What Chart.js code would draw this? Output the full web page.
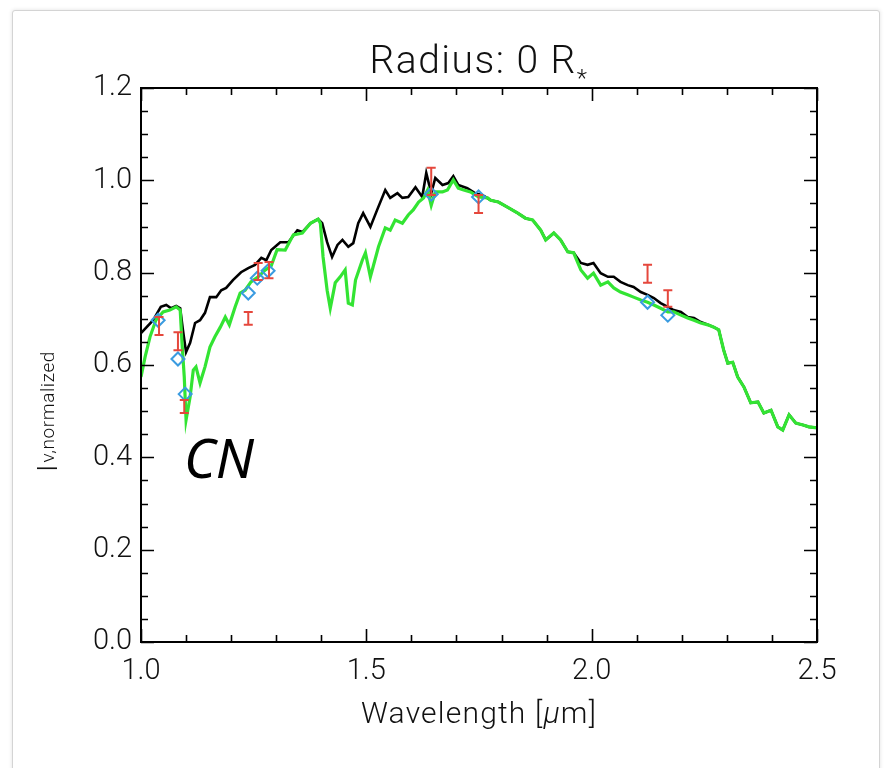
<!DOCTYPE html>
<html>
<head>
<meta charset="utf-8">
<script src="https://cdn.jsdelivr.net/npm/chart.js@4.4.1/dist/chart.umd.min.js"></script>
<style>
  html, body { margin: 0; padding: 0; background: #ffffff; overflow: hidden; }
  #wrap { position: relative; width: 889px; height: 768px; }
  #frame { position: absolute; left: 12px; top: 10px; width: 866px; height: 800px;
           border: 1px solid #d4d4d4; border-radius: 3px; box-shadow: 0 0 4px rgba(0,0,0,0.12); background: #fff; }
  #c { position: absolute; left: 0; top: 0; }
</style>
</head>
<body>
<div id="wrap">
  <div id="frame"></div>
  <canvas id="c" width="889" height="768"></canvas>
</div>
<script>
// ---------------- data ----------------
const titleText = 'Radius: 0 R';
const xTitle = 'Wavelength [μm]';
const xTickValues = [1.0, 1.5, 2.0, 2.5];
const yTickValues = [0.0, 0.2, 0.4, 0.6, 0.8, 1.0, 1.2];

const blackWl = [1.000,1.027,1.044,1.056,1.067,1.078,1.087,1.093,1.100,1.109,1.120,1.131,1.142,1.153,1.167,1.178,1.189,1.204,1.222,1.238,1.253,1.267,1.278,1.289,1.309,1.327,1.347,1.358,1.376,1.393,1.402,1.413,1.424,1.436,1.447,1.460,1.471,1.482,1.493,1.509,1.524,1.542,1.553,1.569,1.580,1.593,1.609,1.624,1.633,1.644,1.653,1.669,1.682,1.693,1.704,1.724,1.742,1.758,1.776,1.793,1.813,1.836,1.853,1.869,1.887,1.898,1.916,1.931,1.947,1.960,1.976,1.991,2.004,2.020,2.036,2.049,2.064,2.080,2.093,2.109,2.124,2.138,2.153,2.169,2.182,2.198,2.213,2.227,2.242,2.258,2.271,2.282,2.293,2.302,2.313,2.324,2.338,2.353,2.369,2.382,2.398,2.413,2.424,2.438,2.453,2.469,2.482,2.500];
const blackFlux = [0.669,0.697,0.726,0.730,0.723,0.728,0.723,0.676,0.628,0.648,0.691,0.697,0.713,0.747,0.747,0.762,0.767,0.784,0.801,0.810,0.817,0.832,0.827,0.849,0.866,0.866,0.892,0.888,0.907,0.916,0.907,0.866,0.834,0.860,0.871,0.856,0.864,0.907,0.929,0.899,0.936,0.979,0.962,0.972,0.962,0.964,0.985,0.964,1.016,0.972,1.005,0.990,0.994,1.009,0.990,0.983,0.972,0.968,0.957,0.953,0.942,0.929,0.918,0.914,0.892,0.871,0.886,0.871,0.845,0.843,0.821,0.817,0.821,0.799,0.791,0.791,0.780,0.773,0.769,0.758,0.752,0.745,0.734,0.726,0.719,0.715,0.704,0.702,0.693,0.687,0.682,0.676,0.632,0.604,0.606,0.574,0.552,0.518,0.520,0.496,0.502,0.466,0.459,0.492,0.474,0.470,0.466,0.464];

const greenWl = [1.000,1.009,1.020,1.033,1.049,1.064,1.078,1.087,1.091,1.096,1.100,1.109,1.116,1.122,1.131,1.142,1.153,1.164,1.176,1.187,1.196,1.209,1.220,1.231,1.244,1.260,1.276,1.289,1.302,1.320,1.338,1.358,1.376,1.393,1.398,1.404,1.413,1.420,1.431,1.442,1.453,1.460,1.469,1.476,1.491,1.498,1.509,1.527,1.542,1.553,1.564,1.580,1.593,1.604,1.616,1.627,1.636,1.644,1.653,1.669,1.680,1.693,1.704,1.716,1.731,1.749,1.769,1.776,1.793,1.813,1.836,1.853,1.869,1.887,1.898,1.916,1.931,1.947,1.960,1.976,1.991,2.004,2.020,2.036,2.049,2.064,2.080,2.093,2.109,2.124,2.138,2.153,2.169,2.182,2.198,2.213,2.227,2.242,2.258,2.271,2.282,2.293,2.302,2.313,2.324,2.338,2.353,2.369,2.382,2.398,2.413,2.424,2.438,2.453,2.469,2.482,2.500];
const greenFlux = [0.574,0.617,0.661,0.697,0.715,0.719,0.726,0.719,0.648,0.574,0.481,0.531,0.589,0.596,0.561,0.596,0.639,0.661,0.682,0.704,0.687,0.726,0.756,0.762,0.780,0.791,0.806,0.815,0.850,0.849,0.882,0.886,0.907,0.916,0.907,0.834,0.762,0.723,0.778,0.791,0.806,0.734,0.730,0.784,0.827,0.843,0.791,0.856,0.897,0.892,0.914,0.907,0.925,0.936,0.953,0.962,0.979,0.946,0.975,0.975,0.979,1.001,0.983,0.979,0.975,0.964,0.962,0.957,0.953,0.942,0.929,0.918,0.914,0.892,0.871,0.886,0.871,0.845,0.843,0.806,0.788,0.799,0.773,0.780,0.767,0.758,0.752,0.747,0.741,0.736,0.730,0.723,0.715,0.715,0.708,0.702,0.697,0.691,0.687,0.682,0.676,0.632,0.604,0.606,0.574,0.552,0.518,0.520,0.496,0.502,0.466,0.459,0.492,0.474,0.470,0.466,0.464];

const obsWl   = [1.040,1.082,1.096,1.238,1.260,1.284,1.644,1.749,2.124,2.169];
const obsLow  = [0.665,0.632,0.496,0.687,0.784,0.788,0.968,0.929,0.778,0.726];
const obsHigh = [0.704,0.671,0.524,0.715,0.821,0.823,1.027,0.968,0.817,0.762];

const modelWl   = [1.038,1.082,1.098,1.238,1.258,1.282,1.644,1.749,2.124,2.169];
const modelFlux = [0.697,0.613,0.537,0.756,0.788,0.804,0.970,0.964,0.736,0.708];

const annotationText = 'CN';
// -----------------------------------------------------------------

const toXY = (xs, ys) => xs.map((x, i) => ({ x: x, y: ys[i] }));
const FONT = '"Roboto", "DejaVu Sans", sans-serif';

const decorPlugin = {
  id: 'decor',
  afterDatasetsDraw(chart) {
    const ctx = chart.ctx;
    const xs = chart.scales.x, ys = chart.scales.y;
    ctx.save();
    ctx.strokeStyle = '#e5473c';
    ctx.lineWidth = 2;
    for (let i = 0; i < obsWl.length; i++) {
      const px = xs.getPixelForValue(obsWl[i]);
      const p1 = ys.getPixelForValue(obsLow[i]);
      const p2 = ys.getPixelForValue(obsHigh[i]);
      ctx.beginPath();
      ctx.moveTo(px, p1); ctx.lineTo(px, p2);
      ctx.moveTo(px - 4.5, p1); ctx.lineTo(px + 4.5, p1);
      ctx.moveTo(px - 4.5, p2); ctx.lineTo(px + 4.5, p2);
      ctx.stroke();
    }
    ctx.restore();
  },
  afterDraw(chart) {
    const ctx = chart.ctx;
    const a = chart.chartArea;
    const xs = chart.scales.x, ys = chart.scales.y;
    ctx.save();
    ctx.strokeStyle = '#000';
    ctx.lineWidth = 2;
    ctx.strokeRect(a.left, a.top, a.right - a.left, a.bottom - a.top);
    ctx.lineWidth = 1.6;
    ctx.beginPath();
    for (let k = 0; k <= 15; k++) {
      const v = 1.0 + k * 0.1;
      const L = (k % 5 === 0) ? 13 : 7;
      const px = Math.round(xs.getPixelForValue(v)) + 0.5;
      ctx.moveTo(px, a.bottom); ctx.lineTo(px, a.bottom - L);
      ctx.moveTo(px, a.top); ctx.lineTo(px, a.top + L);
    }
    for (let k = 0; k <= 24; k++) {
      const v = k * 0.05;
      const L = (k % 4 === 0) ? 13 : 7;
      const py = Math.round(ys.getPixelForValue(v)) + 0.5;
      ctx.moveTo(a.left, py); ctx.lineTo(a.left + L, py);
      ctx.moveTo(a.right, py); ctx.lineTo(a.right - L, py);
    }
    ctx.stroke();

    ctx.fillStyle = '#111';
    ctx.textBaseline = 'alphabetic';
    ctx.textAlign = 'left';
    const cx = (a.left + a.right) / 2;

    // title with subscript star
    ctx.letterSpacing = '1.5px';
    ctx.font = '300 39px ' + FONT;
    const w1 = ctx.measureText(titleText).width;
    ctx.font = '300 24px ' + FONT;
    const w2 = ctx.measureText('*').width;
    const tx = cx - (w1 + w2) / 2;
    ctx.font = '300 39px ' + FONT;
    ctx.fillText(titleText, tx, 73);
    ctx.font = '300 24px ' + FONT;
    ctx.fillText('*', tx + w1, 86);

    // x title
    ctx.letterSpacing = '1.2px';
    const parts = ['Wavelength [', 'μ', 'm]'];
    const fonts = ['300 30px ' + FONT, 'italic 300 30px ' + FONT, '300 30px ' + FONT];
    let tw = 0;
    const ws = parts.map((p, i) => { ctx.font = fonts[i]; const w = ctx.measureText(p).width; tw += w; return w; });
    let x0 = cx - tw / 2;
    parts.forEach((p, i) => { ctx.font = fonts[i]; ctx.fillText(p, x0, 723); x0 += ws[i]; });

    // y title
    ctx.letterSpacing = '0px';
    ctx.save();
    ctx.translate(57, 472);
    ctx.rotate(-Math.PI / 2);
    ctx.font = '300 28px ' + FONT;
    ctx.fillText('I', 0, 0);
    const wI = ctx.measureText('I').width;
    ctx.font = '300 19px ' + FONT;
    ctx.letterSpacing = '0.6px';
    ctx.fillText('ν,normalized', wI + 2, -3);
    ctx.restore();

    // annotation
    ctx.letterSpacing = '0px';
    ctx.font = 'italic 54px "Noto Sans", "Open Sans", sans-serif';
    ctx.fillStyle = '#000';
    ctx.fillText(annotationText, 184, 478);
    ctx.restore();
  }
};

new Chart(document.getElementById('c'), {
  type: 'line',
  data: {
    datasets: [
      { label: 'model points', data: toXY(modelWl, modelFlux), showLine: false,
        pointStyle: 'rectRot', pointRadius: 6.5, pointBorderWidth: 2,
        pointBorderColor: '#3a9be0', pointBackgroundColor: 'rgba(0,0,0,0)', order: 1 },
      { label: 'green', data: toXY(greenWl, greenFlux), borderColor: '#33e433', borderWidth: 3.2,
        pointRadius: 0, tension: 0, order: 2 },
      { label: 'black', data: toXY(blackWl, blackFlux), borderColor: '#000000', borderWidth: 2.6,
        pointRadius: 0, tension: 0, order: 3 }
    ]
  },
  options: {
    responsive: false,
    animation: false,
    events: [],
    layout: { padding: { left: 0, top: 88, right: 72, bottom: 0 } },
    plugins: { legend: { display: false }, title: { display: false }, tooltip: { enabled: false } },
    scales: {
      x: {
        type: 'linear', min: 1.0, max: 2.5,
        grid: { display: false, drawTicks: false },
        border: { display: false },
        afterBuildTicks: (s) => { s.ticks = xTickValues.map(v => ({ value: v })); },
        afterFit: (s) => { s.height = 126; },
        ticks: { padding: 12, color: '#111', font: { family: FONT, size: 29, weight: 300 },
                 callback: (v) => Number(v).toFixed(1), maxRotation: 0 }
      },
      y: {
        type: 'linear', min: 0.0, max: 1.2,
        grid: { display: false, drawTicks: false },
        border: { display: false },
        afterBuildTicks: (s) => { s.ticks = yTickValues.map(v => ({ value: v })); },
        afterFit: (s) => { s.width = 141; },
        ticks: { padding: 9, color: '#111', font: { family: FONT, size: 29, weight: 300 },
                 callback: (v) => Number(v).toFixed(1) }
      }
    }
  },
  plugins: [decorPlugin]
});
</script>
</body>
</html>
